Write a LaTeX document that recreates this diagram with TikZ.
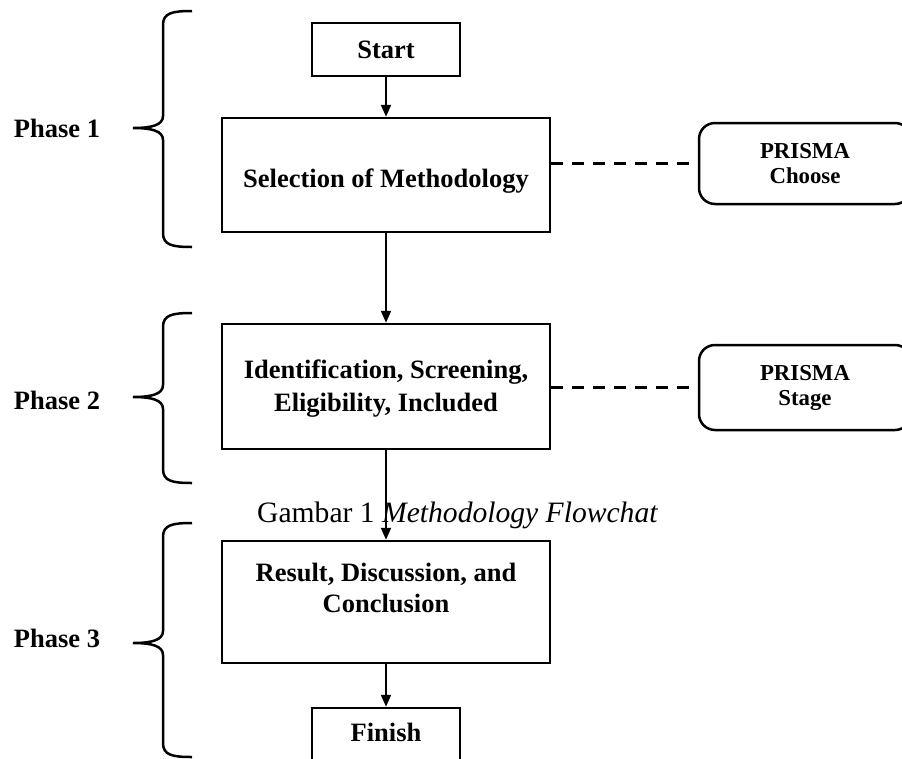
\documentclass[tikz,border=0pt]{standalone}
\usepackage{fontspec}
\setmainfont{Liberation Serif}
\usetikzlibrary{arrows.meta}
\newcommand\phasebrace[3]{%
  \draw[brace] (192,#1) .. controls (172,#1) and (163,#1+2) .. (163,#1+14)
    -- (163,#2-12) .. controls (163,#2-3) and (152,#2) .. (133,#2)
    .. controls (152,#2) and (163,#2+3) .. (163,#2+12)
    -- (163,#3-14) .. controls (163,#3-2) and (172,#3) .. (192,#3);}
\begin{document}
\begin{tikzpicture}[x=1pt,y=-1pt,
  box/.style={draw, line width=2.5pt, inner sep=0pt, align=center,
    font=\fontsize{26.5}{33}\selectfont\bfseries},
  plain/.style={inner sep=0pt, align=center,
    font=\fontsize{26.5}{31}\selectfont\bfseries},
  prisma/.style={draw, line width=2.5pt, rounded corners=16pt, inner sep=0pt,
    align=center, font=\fontsize{22.8}{25}\selectfont\bfseries},
  flow/.style={line width=2pt, -{Triangle[length=12pt,width=10pt]}},
  link/.style={line width=2.5pt, dash pattern=on 12pt off 9pt},
  brace/.style={line width=2.5pt},
  phase/.style={font=\fontsize{26.5}{33}\selectfont\bfseries, inner sep=0pt}]
\useasboundingbox (0,0) rectangle (902,758);
\clip (0,0) rectangle (902,758);

% main flow
\node[box, minimum width=148pt, minimum height=53pt] (start) at (386,49.5) {Start};
\node[box, minimum width=328pt, minimum height=114pt] (sel) at (386,175) {};
\node[plain] (seltxt) at (386,181) {Selection of Methodology};
\node[box, minimum width=328pt, minimum height=125pt] (ident) at (386,386.5) {};
\node[plain, font=\fontsize{26.5}{33}\selectfont\bfseries] (identtxt) at (386,389) {Identification, Screening,\\Eligibility, Included};
\node[box, minimum width=328pt, minimum height=122pt] (result) at (386,602) {};
\node[plain] (resulttxt) at (386,588) {Result, Discussion, and\\Conclusion};
\node[box, minimum width=148pt, minimum height=53pt] (finish) at (386,734.5) {};
\node[plain] (finishtxt) at (386,732) {Finish};

% side boxes
\node[prisma, minimum width=212pt, minimum height=81pt] (pchoose) at (805,163.5) {PRISMA\\Choose};
\node[prisma, minimum width=212pt, minimum height=85pt] (pstage) at (805,387.5) {PRISMA\\Stage};

% connectors
\draw[flow] (start.south) -- (sel.north);
\draw[flow] (sel.south) -- (ident.north);
\draw[flow] (ident.south) -- (result.north);
\draw[flow] (result.south) -- (finish.north);
\draw[link] (sel.east |- pchoose.west) -- (pchoose.west);
\draw[link] (ident.east |- pstage.west) -- (pstage.west);

% caption
\node[anchor=base west, inner sep=0pt, font=\fontsize{29.6}{36}\selectfont] (caption) at (257,522) {Gambar 1 \textit{Methodology Flowchat}};

% phases
\phasebrace{11}{128}{247}
\phasebrace{313}{397}{483}
\phasebrace{523}{643}{757}
\node[phase] (ph1) at (57,128) {Phase 1};
\node[phase] (ph2) at (57,400) {Phase 2};
\node[phase] (ph3) at (57,638) {Phase 3};
\end{tikzpicture}
\end{document}
